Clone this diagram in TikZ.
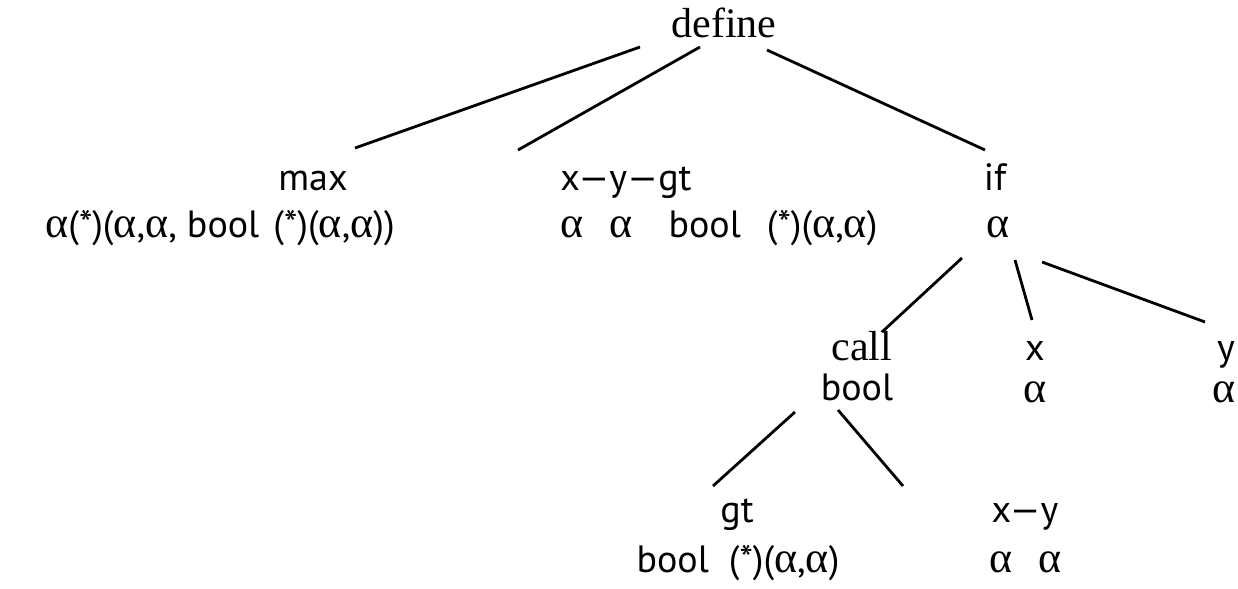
\documentclass[tikz,border=0pt]{standalone}
\usepackage{fontspec}
\setmainfont{PT Sans}
\newfontfamily\serif{Liberation Serif}
\newcommand{\al}{{\serif\fontsize{22}{24}\selectfont α}}

\begin{document}
\begin{tikzpicture}[x=0.5pt, y=-0.5pt, line width=1.4pt,
  lbl/.style = {anchor=base, inner sep=0pt, font=\fontsize{19}{21}\selectfont},
  op/.style = {lbl, font=\fontsize{21}{24}\selectfont\serif}]
\useasboundingbox (0,0) rectangle (1238,589);
% root
\node[op] (define) at (724,38) {define};
% level 1
\node[lbl] (max) at (313,190) {max};
\node[lbl] (maxty) at (220,237) {\al(*)(\al,\al, bool\hspace{2pt} (*)(\al,\al))};
\node[lbl] (xygt) at (626,190) {x—y—gt};
\node[lbl] (xygtty) at (719,237) {\al\hspace{13pt}\al\hspace{18pt}bool\hspace{13pt}(*)(\al,\al)};
\node[lbl] (if) at (995,190) {if};
\node[lbl] (ifty) at (998,237) {\al};
% level 2
\node[op] (call) at (862,360) {call};
\node[lbl] (callty) at (857,400) {bool};
\node[lbl] (x) at (1035,360) {x};
\node[lbl] (xty) at (1035,402) {\al};
\node[lbl] (y) at (1226,360) {y};
\node[lbl] (yty) at (1224,402) {\al};
% level 3
\node[lbl] (gt) at (737,522) {gt};
\node[lbl] (gtty) at (738,572) {bool\hspace{10pt}(*)(\al,\al)};
\node[lbl] (xy) at (1025,522) {x—y};
\node[lbl] (xyty) at (1026,572) {\al\hspace{13pt}\al};
% edges
\draw ([shift={(-84,9)}]define.base) -- ([shift={(42,-42)}]max.base);
\draw ([shift={(-24,9)}]define.base) -- ([shift={(-108,-40)}]xygt.base);
\draw ([shift={(43,12)}]define.base) -- ([shift={(-10,-40)}]if.base);
\draw ([shift={(-36,21)}]ifty.base) -- ([shift={(20,-28)}]call.base);
\draw ([shift={(17,23)}]ifty.base) -- ([shift={(-3,-40)}]x.base);
\draw ([shift={(44,25)}]ifty.base) -- ([shift={(-21,-38)}]y.base);
\draw ([shift={(-62,12)}]callty.base) -- ([shift={(-24,-36)}]gt.base);
\draw ([shift={(-19,10)}]callty.base) -- ([shift={(-122,-36)}]xy.base);
\end{tikzpicture}
\end{document}
